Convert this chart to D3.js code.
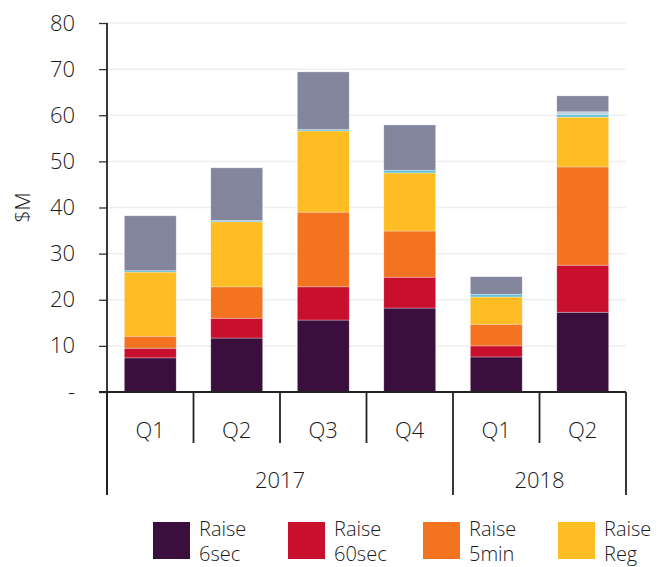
<!DOCTYPE html>
<html lang="en">
<head>
<script src="https://cdnjs.cloudflare.com/ajax/libs/d3/7.8.5/d3.min.js"></script>
<style>
body { margin: 0; background: #fff; }
text { font-family: "Open Sans", "Noto Sans", sans-serif; font-weight: 350; fill: #1a1a1a; }
</style>
</head>
<body>
<script>
var quarters = ["Q1", "Q2", "Q3", "Q4", "Q1", "Q2"]
var years = ["2017", "2017", "2017", "2017", "2018", "2018"]
var series = ["Raise 6sec", "Raise 60sec", "Raise 5min", "Raise Reg", "Lower 6sec", "Lower 60sec", "Lower other"]
var colors = ["#3a0f3d", "#c8102e", "#f37321", "#febd22", "#5fc3de", "#bccfe0", "#84869e"]

var raise6sec  = [7.4, 11.7, 15.6, 18.2, 7.6, 17.3]
var raise60sec = [2.1, 4.3, 7.2, 6.7, 2.4, 10.2]
var raise5min  = [2.6, 6.8, 16.2, 10.0, 4.7, 21.3]
var raiseReg   = [13.9, 14.1, 17.6, 12.6, 5.9, 10.8]
var lower6sec  = [0.3, 0.3, 0.3, 0.6, 0.6, 0.55]
var lower60sec = [0, 0, 0, 0, 0, 0.6]
var lowerOther = [11.9, 11.4, 12.5, 9.8, 3.8, 3.45]
var yTicks = [0, 10, 20, 30, 40, 50, 60, 70, 80]

var w = 658, h = 567
var mLeft = 107, mRight = 626, mTop = 23, base = 392

var rows = quarters.map(function(q, i) {
    return {
        key: years[i] + q,
        "Raise 6sec": raise6sec[i], "Raise 60sec": raise60sec[i],
        "Raise 5min": raise5min[i], "Raise Reg": raiseReg[i],
        "Lower 6sec": lower6sec[i], "Lower 60sec": lower60sec[i],
        "Lower other": lowerOther[i]
    }
})

var svg = d3.select("body").append("svg")
    .attr("width", w)
    .attr("height", h)

var x = d3.scaleBand()
    .domain(rows.map(function(d) { return d.key }))
    .range([mLeft, mRight])
    .paddingInner(0.4)
    .paddingOuter(0.2)

var y = d3.scaleLinear().domain([0, 80]).range([base, mTop])

// gridlines
svg.selectAll("line.grid")
    .data(yTicks.slice(1))
    .enter()
    .append("line")
    .attr("class", "grid")
    .attr("x1", mLeft).attr("x2", mRight)
    .attr("y1", function(d) { return y(d) })
    .attr("y2", function(d) { return y(d) })
    .attr("stroke", "#efefef")
    .attr("stroke-width", 1.5)

var stack = d3.stack().keys(series)
var layers = stack(rows)

svg.selectAll("g.layer")
    .data(layers)
    .enter()
    .append("g")
    .attr("fill", function(d, i) { return colors[i] })
    .selectAll("rect")
    .data(function(d) { return d })
    .enter()
    .append("rect")
    .attr("x", function(d) { return x(d.data.key) })
    .attr("width", x.bandwidth())
    .attr("y", function(d) { return y(d[1]) })
    .attr("height", function(d) { return y(d[0]) - y(d[1]) })
    .attr("stroke", "rgba(255,255,255,0.5)")
    .attr("stroke-width", 0.6)

// y axis
var yAxis = d3.axisLeft(y)
    .tickValues(yTicks)
    .tickSize(8)
    .tickPadding(24)
    .tickFormat(function(d) { return d === 0 ? "-" : d })

var gy = svg.append("g")
    .attr("transform", "translate(" + mLeft + ",0)")
    .call(yAxis)
gy.select(".domain").remove()
gy.selectAll(".tick line").attr("stroke", "#333").attr("stroke-width", 1.3)
gy.selectAll(".tick text")
    .style("font-size", "22px")
    .style("font-family", "'Open Sans', 'Noto Sans', sans-serif")
    .attr("fill", "#1a1a1a")

svg.append("line")
    .attr("x1", mLeft).attr("x2", mLeft)
    .attr("y1", mTop).attr("y2", 495)
    .attr("stroke", "#222").attr("stroke-width", 1.8)

svg.append("line")
    .attr("x1", mLeft - 8).attr("x2", mRight)
    .attr("y1", base).attr("y2", base)
    .attr("stroke", "#222").attr("stroke-width", 1.8)

svg.append("text")
    .attr("transform", "translate(30," + y(40) + ") rotate(-90)")
    .attr("text-anchor", "middle")
    .style("font-size", "21px")
    .text("$M")

// category dividers and labels
var step = x.step()
var edges = rows.map(function(d) { return x(d.key) - x.paddingInner() * step / 2 })
edges.push(mRight)

svg.selectAll("line.div")
    .data(edges)
    .enter()
    .append("line")
    .attr("x1", function(d) { return d })
    .attr("x2", function(d) { return d })
    .attr("y1", base)
    .attr("y2", function(d, i) {
        var isYearEdge = i === 0 || i === edges.length - 1 || years[i] !== years[i - 1]
        return isYearEdge ? 495 : 443
    })
    .attr("stroke", "#222").attr("stroke-width", 1.8)

svg.selectAll("text.q")
    .data(rows)
    .enter()
    .append("text")
    .attr("x", function(d) { return x(d.key) + x.bandwidth() / 2 })
    .attr("y", 438)
    .attr("text-anchor", "middle")
    .style("font-size", "22px")
    .text(function(d, i) { return quarters[i] })

var yearNames = Array.from(new Set(years))
yearNames.forEach(function(yr) {
    var idx = years.map(function(v, i) { return v === yr ? i : -1 }).filter(function(i) { return i >= 0 })
    var x0 = edges[idx[0]], x1 = edges[idx[idx.length - 1] + 1]
    svg.append("text")
        .attr("x", (x0 + x1) / 2)
        .attr("y", 488)
        .attr("text-anchor", "middle")
        .style("font-size", "22px")
        .text(yr)
})

// legend (only first four fit)
var legend = svg.selectAll("g.legend")
    .data(series.slice(0, 4))
    .enter()
    .append("g")
    .attr("transform", function(d, i) { return "translate(" + (153 + i * 135) + ",522)" })

legend.append("rect")
    .attr("width", 37).attr("height", 37)
    .attr("fill", function(d, i) { return colors[i] })

legend.append("text")
    .attr("x", 46).attr("y", 14)
    .style("font-size", "20px")
    .text("Raise")

legend.append("text")
    .attr("x", 46).attr("y", 39)
    .style("font-size", "20px")
    .text(function(d) { return d.replace("Raise ", "") })
</script>
</body>
</html>
